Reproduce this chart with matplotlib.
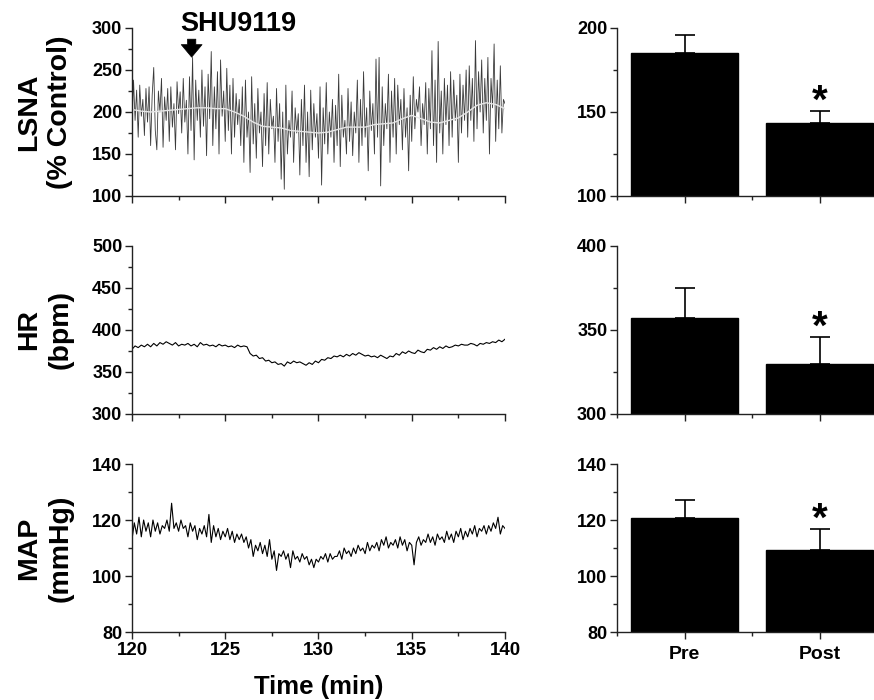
"""
Traces of LSNA, HR and MAP around SHU9119 injection, with Pre/Post bar summaries.
"""

import numpy as np
import matplotlib
matplotlib.use("Agg")
import matplotlib.pyplot as plt
from matplotlib.ticker import MultipleLocator

plt.rcParams['font.family'] = ['Liberation Sans', 'DejaVu Sans']
plt.rcParams['font.weight'] = 'bold'

# LSNA raw trace, 12 samples per minute, 120 -> 140 min (% control)
lsna_raw = [
    185, 238, 190, 226, 170, 232, 195, 215, 172, 228, 188, 230,
    160, 220, 253, 178, 155, 225, 200, 240, 158, 218, 190, 228,
    165, 230, 182, 210, 155, 236, 198, 224, 175, 240, 188, 214,
    150, 242, 178, 265, 143, 238, 190, 226, 170, 250, 183, 230,
    148, 245, 192, 272, 160, 230, 180, 248, 150, 262, 195, 225,
    165, 252, 178, 232, 150, 240, 170, 222, 185, 215, 160, 230,
    140, 238, 170, 200, 128, 242, 162, 210, 145, 228, 175, 200,
    135, 222, 160, 235, 150, 215, 180, 195, 140, 228, 165, 210,
    120, 200, 108, 232, 150, 190, 170, 225, 140, 205, 175, 198,
    125, 215, 160, 232, 140, 200, 123, 226, 155, 210, 170, 198,
    145, 230, 113, 205, 162, 235, 150, 200, 170, 215, 140, 208,
    160, 245, 135, 220, 170, 190, 150, 228, 165, 212, 148, 200,
    175, 238, 140, 215, 160, 248, 170, 205, 130, 225, 178, 210,
    150, 263, 170, 265, 112, 230, 160, 210, 180, 245, 140, 225,
    170, 240, 150, 232, 185, 215, 155, 228, 170, 205, 130, 220,
    165, 242, 180, 215, 200, 230, 160, 210, 185, 235, 150, 228,
    180, 273, 160, 238, 140, 284, 175, 225, 150, 240, 185, 232,
    160, 248, 170, 238, 190, 220, 140, 245, 175, 232, 190, 250,
    170, 255, 190, 240, 165, 285, 180, 248, 200, 262, 175, 240,
    190, 265, 150, 240, 205, 281, 165, 238, 180, 255, 175, 215,
    210,
]

# LSNA moving average, every 0.5 min
lsna_mean = [
    203, 201, 200, 201, 202, 203, 204, 205, 205, 204,
    204, 200, 195, 188, 183, 182, 181, 178, 177, 176,
    175, 176, 179, 182, 182, 182, 185, 186, 187, 192,
    196, 192, 188, 187, 190, 193, 200, 208, 211, 209,
    204,
]

# HR trace, 6 samples per minute (bpm)
hr_raw = [
    377, 381, 379, 382, 380, 383,
    380, 384, 381, 385, 383, 386,
    384, 382, 385, 381, 383, 382,
    384, 381, 383, 380, 385, 382,
    383, 381, 382, 380, 383, 381,
    382, 380, 381, 379, 382, 380,
    381, 380, 372, 369, 370, 366,
    367, 363, 364, 361, 362, 359,
    360, 357, 362, 360, 363, 361,
    362, 360, 358, 361, 359, 363,
    361, 365, 364, 367, 366, 369,
    368, 370, 368, 371, 369, 372,
    370, 373, 371, 369, 370, 368,
    369, 367, 370, 368, 366, 369,
    368, 372, 370, 374, 372, 375,
    373, 372, 376, 374, 373, 377,
    376, 379, 377, 380, 378, 381,
    379, 380, 382, 381, 383, 382,
    382, 384, 383, 381, 384, 383,
    385, 384, 386, 385, 388, 386,
    389,
]

# MAP trace, 8 samples per minute (mmHg)
map_raw = [
    113, 119, 115, 121, 114, 120, 116, 119,
    114, 120, 116, 119, 115, 118, 117, 120,
    116, 126, 117, 119, 116, 120, 117, 118,
    114, 119, 116, 118, 113, 117, 115, 118,
    114, 122, 112, 118, 114, 117, 113, 116,
    114, 117, 113, 116, 112, 115, 113, 115,
    112, 114, 110, 113, 107, 111, 109, 112,
    108, 111, 107, 113, 106, 109, 102, 108,
    107, 109, 106, 108, 103, 109, 106, 107,
    105, 108, 106, 107, 104, 106, 103, 106,
    105, 107, 106, 108, 105, 108, 106, 107,
    107, 109, 106, 110, 108, 109, 107, 110,
    108, 111, 109, 110, 108, 112, 109, 111,
    110, 112, 109, 113, 111, 114, 110, 112,
    111, 113, 110, 114, 111, 113, 109, 112,
    111, 104, 112, 114, 111, 113, 112, 115,
    112, 114, 111, 115, 113, 114, 112, 116,
    113, 115, 112, 116, 114, 117, 113, 116,
    114, 117, 115, 118, 114, 117, 116, 118,
    115, 118, 116, 119, 117, 121, 115, 118,
    117,
]

# Pre / Post group means and SEM
groups = ['Pre', 'Post']
lsna_bar = [185, 143.5]
lsna_err = [11, 7]
hr_bar = [357, 329.5]
hr_err = [18, 16.5]
map_bar = [120.8, 109.2]
map_err = [6.2, 7.7]

fig = plt.figure(figsize=(8.74, 7.0), dpi=100)

left_x, left_w = 0.151, 0.4268
right_x, right_w = 0.706, 0.294
rows = [0.72, 0.4086, 0.0971]
row_h = 0.24

traces = [
    ("LSNA\n(% Control)", lsna_raw, (100, 300), 50, 25),
    ("HR\n(bpm)", hr_raw, (300, 500), 50, 25),
    ("MAP\n(mmHg)", map_raw, (80, 140), 20, 10),
]
bars = [
    (lsna_bar, lsna_err, (100, 200), 50, 25),
    (hr_bar, hr_err, (300, 400), 50, 25),
    (map_bar, map_err, (80, 140), 20, 10),
]


def style_axes(ax):
    for side in ['top', 'right']:
        ax.spines[side].set_visible(False)
    for side in ['left', 'bottom']:
        ax.spines[side].set_linewidth(1.0)
        ax.spines[side].set_color('#222222')
    ax.tick_params(which='major', direction='out', length=5, width=1,
                   labelsize=13, colors='#222222', labelcolor='black', pad=2)
    ax.tick_params(which='minor', direction='out', length=3, width=1,
                   colors='#222222')


trace_axes = []
for i, (label, vals, ylim, major, minor) in enumerate(traces):
    ax = fig.add_axes([left_x, rows[i], left_w, row_h])
    t = np.linspace(120, 140, len(vals))
    color = '#3a3a3a' if i == 0 else 'black'
    lw = 0.6 if i == 0 else 0.8
    ax.plot(t, vals, color=color, lw=lw)
    if i == 0:
        tm = np.linspace(120, 140, len(lsna_mean))
        ax.plot(tm, lsna_mean, color='#e6e6e6', lw=1.0)
    ax.set_xlim(120, 140)
    ax.set_ylim(*ylim)
    ax.xaxis.set_major_locator(MultipleLocator(5))
    ax.xaxis.set_minor_locator(MultipleLocator(2.5))
    ax.yaxis.set_major_locator(MultipleLocator(major))
    ax.yaxis.set_minor_locator(MultipleLocator(minor))
    style_axes(ax)
    ax.set_ylabel(label, fontsize=20.5, fontweight='bold', linespacing=1.25)
    if i < 2:
        ax.tick_params(axis='x', labelbottom=False)
    else:
        ax.tick_params(axis='x', labelsize=13.5)
        ax.set_xlabel("Time (min)", fontsize=18.5, fontweight='bold', labelpad=12)
    trace_axes.append(ax)

for ax in trace_axes:
    ax.yaxis.set_label_coords(-0.157, 0.5)

# SHU9119 marker
ax0 = trace_axes[0]
ax0.annotate('', xy=(123.2, 262), xytext=(123.2, 290),
             arrowprops=dict(arrowstyle='simple,head_width=1.5,head_length=0.9,tail_width=0.6',
                             color='black', lw=0.5),
             annotation_clip=False)
ax0.text(122.6, 305, 'SHU9119', fontsize=19.5, fontweight='bold',
         ha='left', va='center', clip_on=False)

x = np.arange(len(groups))
for i, (vals, errs, ylim, major, minor) in enumerate(bars):
    ax = fig.add_axes([right_x, rows[i], right_w, row_h])
    ax.bar(x, vals, width=0.79, color='black', edgecolor='black', zorder=2)
    ax.errorbar(x, vals, yerr=[np.zeros(len(vals)), errs], fmt='none',
                ecolor='black', elinewidth=1.2, capsize=7.5, capthick=1.2,
                zorder=1)
    tops = np.array(vals) + np.array(errs)
    ax.annotate('*', xy=(x[1], tops[1]), xytext=(0, -7), textcoords='offset points',
                ha='center', va='bottom', fontsize=29, fontweight='bold')
    ax.set_xlim(-0.5, 1.4)
    ax.set_ylim(*ylim)
    ax.set_xticks(x)
    ax.xaxis.set_minor_locator(MultipleLocator(0.5))
    ax.yaxis.set_major_locator(MultipleLocator(major))
    ax.yaxis.set_minor_locator(MultipleLocator(minor))
    style_axes(ax)
    if i < 2:
        ax.tick_params(axis='x', labelbottom=False)
    else:
        ax.set_xticklabels(groups)
        ax.tick_params(axis='x', labelsize=14, pad=5)

fig.savefig("out.png", dpi=100)
